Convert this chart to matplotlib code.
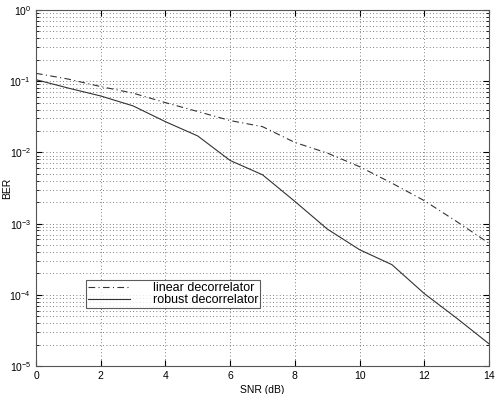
import matplotlib
matplotlib.use("Agg")
import matplotlib.pyplot as plt
from matplotlib.ticker import LogLocator, NullFormatter

snr = [0, 1, 2, 3, 4, 5, 6, 7, 8, 9, 10, 11, 12, 13, 14]
ber_linear = [0.129, 0.107, 0.084, 0.068, 0.050, 0.0375, 0.028, 0.023, 0.0138,
              0.0098, 0.0063, 0.0037, 0.0021, 0.00107, 0.00053]
ber_robust = [0.105, 0.08, 0.062, 0.045, 0.027, 0.017, 0.0077, 0.00485, 0.00205,
              0.00084, 0.00043, 0.000265, 0.000104, 4.7e-5, 2.05e-5]

plt.rcParams['font.family'] = ['Liberation Sans', 'DejaVu Sans']

fig = plt.figure(figsize=(4.95, 3.94), dpi=100)
ax = fig.add_axes([36/495, 1 - 366/394, (489-36)/495, (366-10)/394])

ax.semilogy(snr, ber_linear, color='#333333', linestyle='-.', linewidth=0.8,
            dashes=(6, 3, 1, 3), label='linear decorrelator')
ax.semilogy(snr, ber_robust, color='#333333', linestyle='-', linewidth=0.8,
            label='robust decorrelator')

ax.set_xlim(0, 14)
ax.set_ylim(1e-5, 1)
ax.set_xticks([0, 2, 4, 6, 8, 10, 12, 14])
ax.yaxis.set_major_locator(LogLocator(base=10, numticks=10))
ax.yaxis.set_minor_locator(LogLocator(base=10, subs=range(2, 10), numticks=20))
ax.yaxis.set_minor_formatter(NullFormatter())

ax.grid(True, which='major', axis='both', linestyle=(0, (1, 3)), color='#555555', linewidth=0.6)
ax.grid(True, which='minor', axis='y', linestyle=(0, (1, 3)), color='#555555', linewidth=0.6)

ax.tick_params(which='both', direction='in', top=True, right=True, labelsize=7.5)
ax.tick_params(which='major', length=4)
ax.tick_params(which='minor', length=2)
for s in ax.spines.values():
    s.set_linewidth(0.8)
    s.set_color('#555555')

ax.set_xlabel('SNR (dB)', fontsize=7.5, labelpad=3)
ax.set_ylabel('BER', fontsize=7.5)
ax.yaxis.set_label_coords(-24/453, 0.5)

leg = ax.legend(loc='lower left', bbox_to_anchor=(50/453, (366-308)/356), fontsize=9,
                frameon=True, fancybox=False, edgecolor='#333333', borderpad=0.15,
                labelspacing=0.0, handlelength=3.4, handletextpad=1.8, borderaxespad=0)
leg.get_frame().set_linewidth(0.8)

fig.savefig('out.png', dpi=100)
